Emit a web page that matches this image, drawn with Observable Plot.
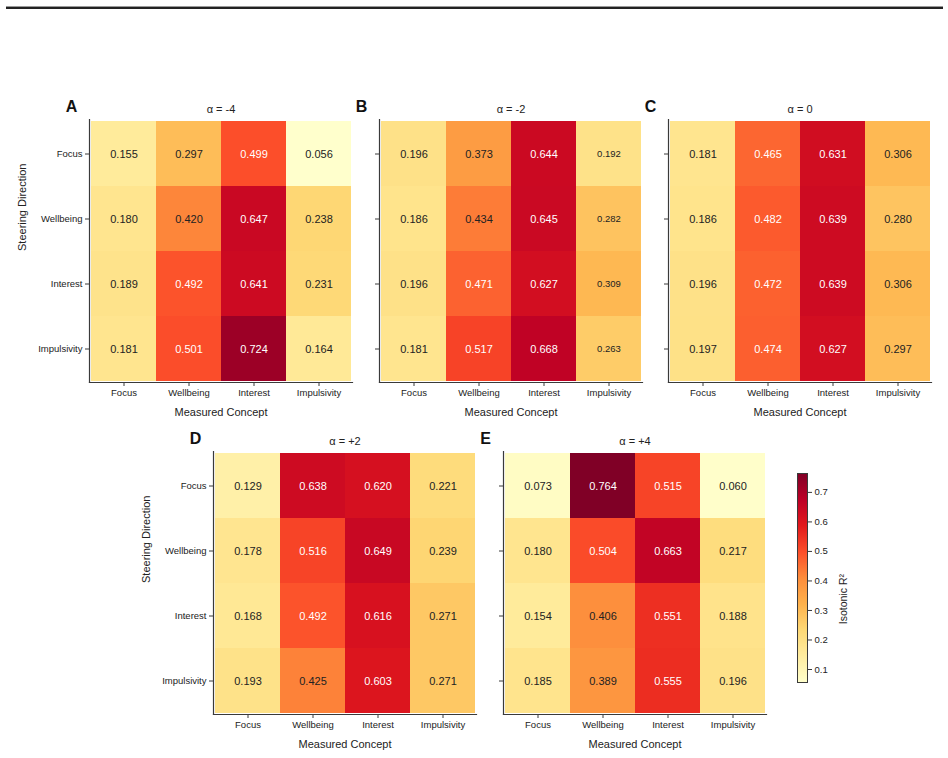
<!DOCTYPE html>
<html>
<head>
<meta charset="utf-8">
<script src="https://cdn.jsdelivr.net/npm/d3@7"></script>
<script src="https://cdn.jsdelivr.net/npm/@observablehq/plot@0.6"></script>
<style>
  html, body { margin: 0; padding: 0; background: white; }
  #figure { position: relative; width: 948px; height: 758px; overflow: hidden; font-family: "Liberation Sans", Arial, sans-serif; }
  #figure > .panel { position: absolute; }
  #rule { position: absolute; left: 6px; top: 6px; width: 937px; height: 0; border-top: 1px solid #999; border-bottom: 2px solid #222; }
</style>
</head>
<body>
<div id="figure"><div id="rule"></div></div>
<script>
// Measured concepts (columns) and steering directions (rows)
const concepts = ["Focus", "Wellbeing", "Interest", "Impulsivity"];
const steering = ["Focus", "Wellbeing", "Interest", "Impulsivity"];

const panelLetters = ["A", "B", "C", "D", "E"];
const alphaTitles = ["α = -4", "α = -2", "α = 0", "α = +2", "α = +4"];

// Isotonic R² per steering direction (row) and measured concept (column)
const r2AlphaMinus4 = [
  [0.155, 0.297, 0.499, 0.056],
  [0.180, 0.420, 0.647, 0.238],
  [0.189, 0.492, 0.641, 0.231],
  [0.181, 0.501, 0.724, 0.164]
];
const r2AlphaMinus2 = [
  [0.196, 0.373, 0.644, 0.192],
  [0.186, 0.434, 0.645, 0.282],
  [0.196, 0.471, 0.627, 0.309],
  [0.181, 0.517, 0.668, 0.263]
];
const r2Alpha0 = [
  [0.181, 0.465, 0.631, 0.306],
  [0.186, 0.482, 0.639, 0.280],
  [0.196, 0.472, 0.639, 0.306],
  [0.197, 0.474, 0.627, 0.297]
];
const r2AlphaPlus2 = [
  [0.129, 0.638, 0.620, 0.221],
  [0.178, 0.516, 0.649, 0.239],
  [0.168, 0.492, 0.616, 0.271],
  [0.193, 0.425, 0.603, 0.271]
];
const r2AlphaPlus4 = [
  [0.073, 0.764, 0.515, 0.060],
  [0.180, 0.504, 0.663, 0.217],
  [0.154, 0.406, 0.551, 0.188],
  [0.185, 0.389, 0.555, 0.196]
];

const colorbarTicks = [0.1, 0.2, 0.3, 0.4, 0.5, 0.6, 0.7];
const colorbarLabel = "Isotonic R²";
const xLabel = "Measured Concept";
const yLabel = "Steering Direction";

const panelData = [r2AlphaMinus4, r2AlphaMinus2, r2Alpha0, r2AlphaPlus2, r2AlphaPlus4];

// Shared colour scale: YlOrRd stops spread linearly over the data range
const allValues = panelData.flat(2);
const [lo, hi] = d3.extent(allValues);
const ylOrRd = ["#ffffcc", "#ffeda0", "#fed976", "#feb24c", "#fd8d3c", "#fc4e2a", "#e31a1c", "#bd0026", "#800026"];
const colorOptions = {
  type: "linear",
  domain: ylOrRd.map((_, i) => lo + (i * (hi - lo)) / (ylOrRd.length - 1)),
  range: ylOrRd,
  interpolate: "rgb",
  clamp: true
};

const FONT = '"Liberation Sans", Arial, sans-serif';
const INK = "#222";
const SPINE = "#3a3a3a";
const CELL = 263;              // heatmap side in px
const M = {left: 89, top: 40, right: 10, bottom: 44};

// Frame placement of each heatmap on the page
const layout = [
  {left: 89,  top: 119, yTickLabels: true},
  {left: 379, top: 119, yTickLabels: false, compactColumn: "Impulsivity"},
  {left: 668, top: 119, yTickLabels: false},
  {left: 213, top: 451, yTickLabels: true},
  {left: 503, top: 451, yTickLabels: false}
];

const figure = document.getElementById("figure");

panelData.forEach((matrix, p) => {
  const cfg = layout[p];
  const records = [];
  matrix.forEach((row, i) => row.forEach((value, j) => {
    records.push({row: steering[i], col: concepts[j], value});
  }));
  const valueSize = (d) => (cfg.compactColumn === d.col ? 9.5 : 11);

  const marks = [
    Plot.cell(records, {x: "col", y: "row", fill: "value", inset: 0}),
    Plot.text(records.filter((d) => d.value <= 0.45), {
      x: "col", y: "row", text: (d) => d.value.toFixed(3), fill: INK, fontSize: valueSize
    }),
    Plot.text(records.filter((d) => d.value > 0.45), {
      x: "col", y: "row", text: (d) => d.value.toFixed(3), fill: "white", fontSize: valueSize
    }),
    Plot.axisX({tickSize: 4, tickPadding: 3, stroke: SPINE, fill: INK, fontSize: 9.5, label: null}),
    Plot.axisY({
      tickSize: 4, tickPadding: 3, stroke: SPINE, fill: INK, fontSize: 9.5, label: null,
      tickFormat: cfg.yTickLabels ? (d) => d : () => ""
    }),
    Plot.frame({anchor: "left", stroke: SPINE, strokeWidth: 1.2}),
    Plot.frame({anchor: "bottom", stroke: SPINE, strokeWidth: 1.2}),
    Plot.text([alphaTitles[p]], {frameAnchor: "top", lineAnchor: "middle", dy: -10, fontSize: 11, fill: INK}),
    Plot.text([panelLetters[p]], {
      frameAnchor: "top-left", textAnchor: "middle", lineAnchor: "middle",
      dx: -18, dy: -13, fontSize: 16, fontWeight: "bold", fill: "#111"
    }),
    Plot.text([xLabel], {frameAnchor: "bottom", dy: 33, fontSize: 11, fill: INK})
  ];
  if (cfg.yTickLabels) {
    marks.push(Plot.text([yLabel], {frameAnchor: "left", dx: -67, rotate: -90, fontSize: 11, fill: INK}));
  }

  const chart = Plot.plot({
    width: CELL + M.left + M.right,
    height: CELL + M.top + M.bottom,
    marginLeft: M.left, marginTop: M.top, marginRight: M.right, marginBottom: M.bottom,
    style: {fontFamily: FONT, fontSize: "9.5px", background: "transparent", overflow: "visible"},
    x: {domain: concepts, padding: 0, label: null},
    y: {domain: steering, padding: 0, label: null},
    color: colorOptions,
    marks
  });
  chart.classList.add("panel");
  chart.style.left = `${cfg.left - M.left}px`;
  chart.style.top = `${cfg.top - M.top}px`;
  figure.appendChild(chart);
});

// Vertical colour bar sharing the heatmap scale
const bar = {left: 797, top: 473, width: 10, height: 209};
const BM = {left: 17, right: 63, top: 10, bottom: 11};
const colorbar = Plot.plot({
  width: bar.width + BM.left + BM.right,
  height: bar.height + BM.top + BM.bottom,
  marginLeft: BM.left, marginRight: BM.right, marginTop: BM.top, marginBottom: BM.bottom,
  style: {fontFamily: FONT, fontSize: "9.5px", background: "transparent", overflow: "visible"},
  x: {domain: [0, 1], axis: null},
  y: {domain: [lo, hi], axis: null},
  color: colorOptions,
  marks: [
    Plot.raster({fill: (x, y) => y, x1: 0, x2: 1, y1: lo, y2: hi, width: 1, height: bar.height}),
    Plot.frame({stroke: SPINE, strokeWidth: 1}),
    Plot.axisY({anchor: "right", ticks: colorbarTicks, tickFormat: d3.format(".1f"), tickSize: 4, tickPadding: 3, stroke: SPINE, fill: INK, fontSize: 9.5, label: null}),
    Plot.text([colorbarLabel], {frameAnchor: "right", dx: 36, dy: -4, rotate: -90, fontSize: 10.5, fill: INK})
  ]
});
colorbar.classList.add("panel");
colorbar.style.left = `${bar.left - BM.left}px`;
colorbar.style.top = `${bar.top - BM.top}px`;
figure.appendChild(colorbar);
</script>
</body>
</html>
